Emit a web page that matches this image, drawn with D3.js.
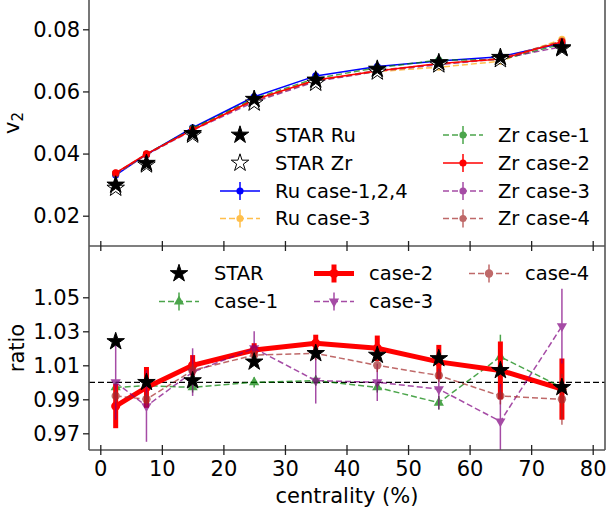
<!DOCTYPE html>
<html>
<head>
<meta charset="utf-8">
<script src="https://cdn.jsdelivr.net/npm/d3@7"></script>
<style>
body { margin: 0; background: #fff; }
text { font-family: "DejaVu Sans", sans-serif; fill: #000; }
</style>
</head>
<body>
<svg width="606" height="512"></svg>
<script>
// centrality bins
var cent = [2.5, 7.5, 15, 25, 35, 45, 55, 65, 75];

// top panel: v2
var starRu   = [0.0299, 0.0369, 0.0465, 0.0575, 0.0637, 0.0672, 0.0693, 0.0710, 0.0741];
var starZr   = [0.0289, 0.0364, 0.0460, 0.0563, 0.0627, 0.0663, 0.0686, 0.0703, 0.0738];
var ruCase124 = [0.0331, 0.0397, 0.0483, 0.0583, 0.0650, 0.0680, 0.0698, 0.0712, 0.0755];
var ruCase3  = [0.0334, 0.0396, 0.0479, 0.0574, 0.0636, 0.0664, 0.0678, 0.0697, 0.0768];
var zrCase1  = [0.0336, 0.0398, 0.0481, 0.0577, 0.0642, 0.0676, 0.0701, 0.0702, 0.0752];
var zrCase2  = [0.0338, 0.0399, 0.0476, 0.0573, 0.0637, 0.0666, 0.0690, 0.0704, 0.0760];
var zrCase3  = [0.0335, 0.0396, 0.0475, 0.0566, 0.0632, 0.0665, 0.0686, 0.0705, 0.0744];
var zrCase4  = [0.0337, 0.0398, 0.0478, 0.0570, 0.0634, 0.0668, 0.0688, 0.0707, 0.0762];

// bottom panel: ratio Ru/Zr
var ratioStar = [1.024, 1.000, 1.001, 1.012, 1.017, 1.016, 1.014, 1.007, 0.997];
var ratio1 = [0.997, 0.998, 0.997, 1.000, 1.001, 0.997, 0.988, 1.015, 0.997];
var err1   = [0.003, 0.003, 0.003, 0.003, 0.003, 0.003, 0.004, 0.013, 0.004];
var ratio2 = [0.986, 0.997, 1.010, 1.019, 1.023, 1.020, 1.012, 1.007, 0.996];
var err2   = [0.013, 0.012, 0.006, 0.004, 0.005, 0.0075, 0.010, 0.017, 0.018];
var ratio3 = [1.000, 0.986, 1.006, 1.020, 1.001, 1.000, 0.996, 0.977, 1.033];
var err3   = [0.022, 0.021, 0.014, 0.010, 0.0135, 0.011, 0.012, 0.022, 0.022];
var ratio4 = [0.992, 0.990, 1.007, 1.016, 1.017, 1.010, 1.004, 0.992, 0.990];
var err4   = [0.004, 0.004, 0.004, 0.004, 0.004, 0.004, 0.004, 0.005, 0.015];

var xTicks = [0, 10, 20, 30, 40, 50, 60, 70, 80];
var yTopTicks = [0.02, 0.04, 0.06, 0.08];
var yBotTicks = [0.97, 0.99, 1.01, 1.03, 1.05];

var svg = d3.select("svg");
var L = 89, R = 605, MID = 246, BOT = 450;

var x = d3.scaleLinear().domain([0, 80]).range([100.3, 592.7]);
var yTop = d3.scaleLinear().domain([0.02, 0.08]).range([215.7, 29.3]);
var yBot = d3.scaleLinear().domain([0.97, 1.05]).range([433.3, 297.3]);

var defs = svg.append("defs");
defs.append("clipPath").attr("id", "clipTop").append("rect")
  .attr("x", L).attr("y", 0).attr("width", R - L).attr("height", MID);
defs.append("clipPath").attr("id", "clipBot").append("rect")
  .attr("x", L).attr("y", MID).attr("width", R - L).attr("height", BOT - MID);

var sym = function(type, size) { return d3.symbol().type(type).size(size)(); };

function drawSeries(g, y, vals, errs, o) {
  var pts = cent.map(function(c, i) { return [c, vals[i], errs ? errs[i] : 0]; });
  var s = g.append("g").attr("opacity", o.opacity || 1);
  if (errs) {
    s.selectAll("line.err").data(pts).enter().append("line")
      .attr("x1", function(d) { return x(d[0]); })
      .attr("x2", function(d) { return x(d[0]); })
      .attr("y1", function(d) { return y(d[1] - d[2]); })
      .attr("y2", function(d) { return y(d[1] + d[2]); })
      .attr("stroke", o.color).attr("stroke-width", o.ew || 1.5);
  }
  s.append("path").datum(pts)
    .attr("fill", "none").attr("stroke", o.color).attr("stroke-width", o.lw || 1.5)
    .attr("stroke-dasharray", o.dash ? "6,3" : null)
    .attr("d", d3.line().x(function(d) { return x(d[0]); }).y(function(d) { return y(d[1]); }));
  s.selectAll("path.mk").data(pts).enter().append("path")
    .attr("d", sym(o.marker, o.size))
    .attr("transform", function(d) {
      return "translate(" + x(d[0]) + "," + y(d[1]) + ")" + (o.rot ? " rotate(180)" : "");
    })
    .attr("fill", o.color);
}

function drawStars(g, y, vals, fill) {
  g.selectAll(null).data(cent.map(function(c, i) { return [c, vals[i]]; })).enter().append("path")
    .attr("d", sym(d3.symbolStar, 95))
    .attr("transform", function(d) { return "translate(" + x(d[0]) + "," + y(d[1]) + ")"; })
    .attr("fill", fill).attr("stroke", "#000").attr("stroke-width", 1);
}

// ---- top panel
var gTop = svg.append("g").attr("clip-path", "url(#clipTop)");
var topStyles = {
  ru124: {color: "#0000ff", marker: d3.symbolCircle, size: 40},
  ru3:   {color: "orange", marker: d3.symbolCircle, size: 40, dash: true, opacity: 0.7},
  zr1:   {color: "green", marker: d3.symbolCircle, size: 40, dash: true, opacity: 0.7},
  zr2:   {color: "#ff0000", marker: d3.symbolCircle, size: 40},
  zr3:   {color: "purple", marker: d3.symbolCircle, size: 40, dash: true, opacity: 0.7},
  zr4:   {color: "brown", marker: d3.symbolCircle, size: 40, dash: true, opacity: 0.7}
};
drawSeries(gTop, yTop, ruCase124, null, topStyles.ru124);
drawSeries(gTop, yTop, ruCase3, null, topStyles.ru3);
drawSeries(gTop, yTop, zrCase1, null, topStyles.zr1);
drawSeries(gTop, yTop, zrCase3, null, topStyles.zr3);
drawSeries(gTop, yTop, zrCase4, null, topStyles.zr4);
drawSeries(gTop, yTop, zrCase2, null, topStyles.zr2);
drawStars(gTop, yTop, starZr, "#fff");
drawStars(gTop, yTop, starRu, "#000");

// ---- bottom panel
var gBot = svg.append("g").attr("clip-path", "url(#clipBot)");
gBot.append("line")
  .attr("x1", L).attr("x2", R).attr("y1", yBot(1)).attr("y2", yBot(1))
  .attr("stroke", "#000").attr("stroke-width", 1.3).attr("stroke-dasharray", "6,3");
var botStyles = {
  c1: {color: "green", marker: d3.symbolTriangle, size: 45, dash: true, opacity: 0.7},
  c2: {color: "#ff0000", marker: d3.symbolCircle, size: 65, lw: 5, ew: 5},
  c3: {color: "purple", marker: d3.symbolTriangle, size: 45, dash: true, rot: true, opacity: 0.7},
  c4: {color: "brown", marker: d3.symbolCircle, size: 55, dash: true, opacity: 0.7}
};
drawSeries(gBot, yBot, ratio1, err1, botStyles.c1);
drawSeries(gBot, yBot, ratio2, err2, botStyles.c2);
drawSeries(gBot, yBot, ratio3, err3, botStyles.c3);
drawSeries(gBot, yBot, ratio4, err4, botStyles.c4);
drawStars(gBot, yBot, ratioStar, "#000");

// ---- spines
var spines = [[L, 0, L, BOT], [R, 0, R, BOT], [L, MID, R, MID], [L, BOT, R, BOT]];
svg.selectAll("line.spine").data(spines).enter().append("line")
  .attr("x1", function(d) { return d[0]; }).attr("y1", function(d) { return d[1]; })
  .attr("x2", function(d) { return d[2]; }).attr("y2", function(d) { return d[3]; })
  .attr("stroke", "#555").attr("stroke-width", 1.6);

// ---- axes
function styleAxis(g) {
  g.select(".domain").remove();
  g.selectAll(".tick line").attr("stroke", "#222").attr("stroke-width", 1.3);
  g.selectAll(".tick text").style("font-size", "21px").attr("fill", "#000");
}
svg.append("g").attr("transform", "translate(" + L + ",0)")
  .call(d3.axisLeft(yTop).tickValues(yTopTicks).tickFormat(d3.format(".2f")).tickSize(6).tickPadding(3))
  .call(styleAxis);
svg.append("g").attr("transform", "translate(" + L + ",0)")
  .call(d3.axisLeft(yBot).tickValues(yBotTicks).tickFormat(d3.format(".2f")).tickSize(6).tickPadding(3))
  .call(styleAxis);
svg.append("g").attr("transform", "translate(0," + BOT + ")")
  .call(d3.axisBottom(x).tickValues(xTicks).tickSize(5).tickPadding(6))
  .call(styleAxis)
  .selectAll(".tick line").attr("y1", -5).attr("y2", 5);
svg.append("g").attr("transform", "translate(0," + MID + ")")
  .call(d3.axisBottom(x).tickValues(xTicks).tickSize(5).tickFormat(""))
  .call(styleAxis)
  .selectAll(".tick line").attr("y1", -5).attr("y2", 5);

// axis labels
var vl = svg.append("text").attr("transform", "translate(19,123) rotate(-90)")
  .attr("text-anchor", "middle").style("font-size", "21px");
vl.append("tspan").text("v");
vl.append("tspan").attr("dy", 4).style("font-size", "15px").text("2");
svg.append("text").attr("transform", "translate(23.5,348) rotate(-90)")
  .attr("text-anchor", "middle").style("font-size", "21px").text("ratio");
svg.append("text").attr("x", (L + R) / 2).attr("y", 503)
  .attr("text-anchor", "middle").style("font-size", "21px").text("centrality (%)");

// ---- legends
function legendItem(cx, cy, tx, label, o) {
  var g = svg.append("g");
  if (o.star) {
    g.append("path").attr("d", sym(d3.symbolStar, 95))
      .attr("transform", "translate(" + cx + "," + cy + ")")
      .attr("fill", o.star).attr("stroke", "#000").attr("stroke-width", 1);
  } else {
    var h = g.append("g").attr("opacity", o.opacity || 1);
    h.append("line").attr("x1", cx - 20).attr("x2", cx + 20).attr("y1", cy).attr("y2", cy)
      .attr("stroke", o.color).attr("stroke-width", o.lw || 1.5)
      .attr("stroke-dasharray", o.dash ? "6,3" : null);
    h.append("line").attr("x1", cx).attr("x2", cx).attr("y1", cy - 9).attr("y2", cy + 9)
      .attr("stroke", o.color).attr("stroke-width", o.ew || 1.5);
    h.append("path").attr("d", sym(o.marker, o.size))
      .attr("transform", "translate(" + cx + "," + cy + ")" + (o.rot ? " rotate(180)" : ""))
      .attr("fill", o.color);
  }
  g.append("text").attr("x", tx).attr("y", cy).attr("dy", "0.35em")
    .style("font-size", "19.5px").text(label);
}

var topLegend1 = ["STAR Ru", "STAR Zr", "Ru case-1,2,4", "Ru case-3"];
var topLegend2 = ["Zr case-1", "Zr case-2", "Zr case-3", "Zr case-4"];
var rowsTop = [135, 163, 191, 218.5];
legendItem(240, rowsTop[0], 275, topLegend1[0], {star: "#000"});
legendItem(240, rowsTop[1], 275, topLegend1[1], {star: "#fff"});
legendItem(240, rowsTop[2], 275, topLegend1[2], topStyles.ru124);
legendItem(240, rowsTop[3], 275, topLegend1[3], topStyles.ru3);
legendItem(463, rowsTop[0], 498, topLegend2[0], topStyles.zr1);
legendItem(463, rowsTop[1], 498, topLegend2[1], topStyles.zr2);
legendItem(463, rowsTop[2], 498, topLegend2[2], topStyles.zr3);
legendItem(463, rowsTop[3], 498, topLegend2[3], topStyles.zr4);

var botLegend = ["STAR", "case-1", "case-2", "case-3", "case-4"];
legendItem(179, 273.5, 214, botLegend[0], {star: "#000"});
legendItem(179, 301.5, 214, botLegend[1], botStyles.c1);
legendItem(334, 273.5, 369, botLegend[2], botStyles.c2);
legendItem(334, 301.5, 369, botLegend[3], botStyles.c3);
legendItem(489, 273.5, 525, botLegend[4], botStyles.c4);
</script>
</body>
</html>
